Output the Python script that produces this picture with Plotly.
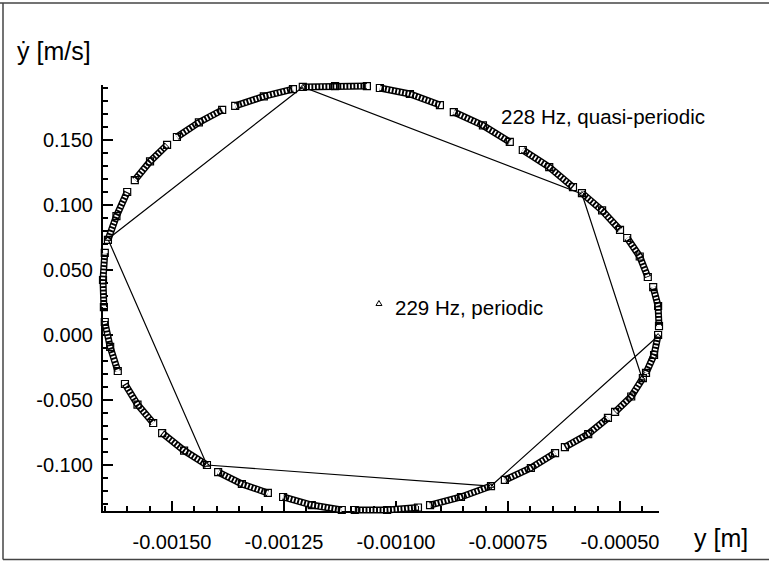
import plotly.graph_objects as go

# Quasi-periodic orbit (228 Hz): clusters of Poincaré points, one list per arc
arc_x = [
    [-0.001208, -0.001136, -0.001065],
    [-0.001036, -0.000969, -0.000902],
    [-0.000871, -0.000806, -0.000746],
    [-0.000717, -0.000658, -0.000605],
    [-0.000585, -0.000540, -0.000500],
    [-0.000484, -0.000456, -0.000438],
    [-0.000426, -0.000415, -0.000413],
    [-0.000415, -0.000424, -0.000442],
    [-0.000449, -0.000475, -0.000511],
    [-0.000527, -0.000571, -0.000623],
    [-0.000645, -0.000699, -0.000757],
    [-0.000788, -0.000855, -0.000924],
    [-0.000951, -0.001020, -0.001092],
    [-0.001121, -0.001188, -0.001252],
    [-0.001286, -0.001344, -0.001397],
    [-0.001422, -0.001473, -0.001522],
    [-0.001542, -0.001577, -0.001605],
    [-0.001621, -0.001638, -0.001650],
    [-0.001652, -0.001654, -0.001650],
    [-0.001643, -0.001624, -0.001600],
    [-0.001583, -0.001549, -0.001511],
    [-0.001489, -0.001440, -0.001388],
    [-0.001359, -0.001295, -0.001230],
]
arc_y = [
    [0.1908, 0.1915, 0.1915],
    [0.1900, 0.1854, 0.1769],
    [0.1715, 0.1612, 0.1485],
    [0.1423, 0.1292, 0.1138],
    [0.1092, 0.0958, 0.0808],
    [0.0746, 0.0604, 0.0446],
    [0.0369, 0.0223, 0.0069],
    [0.0000, -0.0154, -0.0292],
    [-0.0331, -0.0473, -0.0592],
    [-0.0638, -0.0762, -0.0862],
    [-0.0908, -0.1023, -0.1115],
    [-0.1162, -0.1246, -0.1308],
    [-0.1327, -0.1346, -0.1346],
    [-0.1346, -0.1308, -0.1246],
    [-0.1215, -0.1146, -0.1054],
    [-0.1000, -0.0889, -0.0754],
    [-0.0677, -0.0535, -0.0377],
    [-0.0277, -0.0092, 0.0100],
    [0.0215, 0.0423, 0.0631],
    [0.0731, 0.0915, 0.1100],
    [0.1192, 0.1335, 0.1462],
    [0.1523, 0.1635, 0.1731],
    [0.1762, 0.1835, 0.1892],
]

# Periodic orbit (229 Hz): seven-point cycle
periodic_x = [-0.001643, -0.001208, -0.000585, -0.000451, -0.000415, -0.000788, -0.001422]
periodic_y = [0.0738, 0.1908, 0.1085, -0.0331, -0.0008, -0.1162, -0.1000]

x_tickvals = [-0.0015, -0.00125, -0.001, -0.00075, -0.0005]
x_ticktext = ["-0.00150", "-0.00125", "-0.00100", "-0.00075", "-0.00050"]
y_tickvals = [-0.1, -0.05, 0.0, 0.05, 0.1, 0.15]
y_ticktext = ["-0.100", "-0.050", "0.000", "0.050", "0.100", "0.150"]

FONT = "Arial, Liberation Sans, Helvetica, sans-serif"
W, H = 769, 561

# visible axis frame (pixels) and its value ranges
AX_L, AX_R, AX_T, AX_B = 103, 659, 85, 511
X_RANGE = [-0.001654, -0.000413]
Y_RANGE = [-0.13538, 0.19231]

# the clusters live on a full-page overlay with the same scale, so nothing is clipped
sx = (X_RANGE[1] - X_RANGE[0]) / (AX_R - AX_L)
sy = (Y_RANGE[1] - Y_RANGE[0]) / (AX_B - AX_T)
X_FULL = [X_RANGE[0] - AX_L * sx, X_RANGE[1] + (W - AX_R) * sx]
Y_FULL = [Y_RANGE[0] - (H - AX_B) * sy, Y_RANGE[1] + AX_T * sy]


def px(x):
    return x / W


def py(y):
    return 1 - y / H


# flatten the arcs into one path with gaps between clusters
qx, qy = [], []
for xs, ys in zip(arc_x, arc_y):
    qx += xs + [None]
    qy += ys + [None]

fig = go.Figure()

# periodic cycle drawn as a closed polygon on the main axes
fig.add_trace(go.Scatter(
    x=periodic_x + periodic_x[:1], y=periodic_y + periodic_y[:1],
    mode="lines", line=dict(color="black", width=1.2),
    hoverinfo="skip", showlegend=False))

overlay = dict(xaxis="x2", yaxis="y2", hoverinfo="skip", showlegend=False)

# quasi-periodic clusters: outlined chain of squares
fig.add_trace(go.Scatter(
    x=qx, y=qy, mode="lines", line=dict(color="black", width=7),
    connectgaps=False, **overlay))
fig.add_trace(go.Scatter(
    x=qx, y=qy, mode="lines",
    line=dict(color="white", width=4.2, dash="1.6px,1.9px"),
    connectgaps=False, **overlay))
fig.add_trace(go.Scatter(
    x=qx, y=qy, mode="markers",
    marker=dict(symbol="square-open", size=7, color="black", line=dict(width=1.2)),
    **overlay))

# vertices of the periodic cycle
fig.add_trace(go.Scatter(
    x=periodic_x, y=periodic_y, mode="markers",
    marker=dict(symbol="triangle-up-open", size=5, color="black", line=dict(width=1)),
    **overlay))

axis_common = dict(
    showgrid=False, zeroline=False, showline=True, linecolor="black", linewidth=2,
    ticks="inside", ticklen=10, tickwidth=2, tickcolor="black",
    tickfont=dict(family=FONT, size=20, color="black"),
    tickmode="array",
)

fig.update_layout(
    xaxis=dict(
        **axis_common, range=X_RANGE, domain=[px(AX_L), px(AX_R)], anchor="y",
        tickvals=x_tickvals, ticktext=x_ticktext, ticklabelstandoff=12,
        minor=dict(tickmode="linear", tick0=0, dtick=0.00005, ticks="inside",
                   ticklen=5, tickwidth=2, tickcolor="black"),
    ),
    yaxis=dict(
        **axis_common, range=Y_RANGE, domain=[py(AX_B), py(AX_T)], anchor="x",
        tickvals=y_tickvals, ticktext=y_ticktext, ticklabelstandoff=4,
        minor=dict(tickmode="linear", tick0=0, dtick=0.01, ticks="inside",
                   ticklen=5, tickwidth=2, tickcolor="black"),
    ),
    xaxis2=dict(range=X_FULL, domain=[0, 1], anchor="y2", visible=False),
    yaxis2=dict(range=Y_FULL, domain=[0, 1], anchor="x2", visible=False),
)

annotations = [
    dict(text="ẏ [m/s]", x=px(15), y=py(51), xanchor="left", yanchor="middle",
         font=dict(size=25)),
    dict(text="y [m]", x=px(721), y=py(538), xanchor="center", yanchor="middle",
         font=dict(size=25)),
    dict(text="228 Hz, quasi-periodic", x=px(499), y=py(117), xanchor="left",
         yanchor="middle", font=dict(size=20.5)),
    dict(text="229 Hz, periodic", x=px(393), y=py(307), xanchor="left",
         yanchor="middle", font=dict(size=20.5)),
]
for a in annotations:
    a.update(xref="paper", yref="paper", showarrow=False)
    a["font"].update(family=FONT, color="black")

tri = "M {:.4f},{:.4f} L {:.4f},{:.4f} L {:.4f},{:.4f} Z".format(
    px(376), py(305.5), px(382), py(305.5), px(379), py(300.5))

shapes = [
    # small triangle key beside the periodic label
    dict(type="path", xref="paper", yref="paper", path=tri,
         line=dict(color="black", width=1)),
    # page frame
    dict(type="line", xref="paper", yref="paper", x0=px(3), x1=px(3),
         y0=py(559.5), y1=py(3), line=dict(color="#444", width=1.5)),
    dict(type="line", xref="paper", yref="paper", x0=0, x1=1,
         y0=py(3), y1=py(3), line=dict(color="#444", width=1.5)),
    dict(type="line", xref="paper", yref="paper", x0=px(3), x1=1,
         y0=py(559.5), y1=py(559.5), line=dict(color="#444", width=1.5)),
]

fig.update_layout(
    width=W, height=H,
    margin=dict(l=0, r=0, t=0, b=0),
    paper_bgcolor="white", plot_bgcolor="rgba(0,0,0,0)",
    annotations=annotations, shapes=shapes,
    showlegend=False,
)

fig.write_html("out.html")
